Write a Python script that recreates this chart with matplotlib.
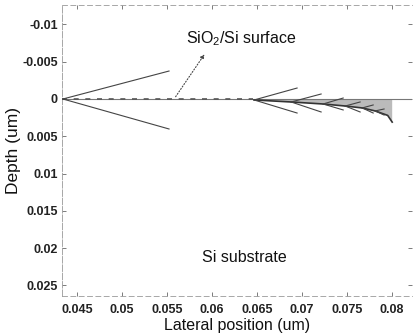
import matplotlib
matplotlib.use("Agg")
import matplotlib.pyplot as plt

plt.rcParams['font.family'] = ['Liberation Sans', 'DejaVu Sans']

# branching stages: origin (x, y), end x, upper end y, lower end y
stage_x0 = [0.04344, 0.06467, 0.06878, 0.07233, 0.07478, 0.07667, 0.07811]
stage_y0 = [0.0, 0.00013, 0.0004, 0.00067, 0.00094, 0.0012, 0.0016]
stage_x1 = [0.05522, 0.06944, 0.07211, 0.07456, 0.07644, 0.07789, 0.0791]
stage_up = [-0.00375, -0.00147, -0.00067, -0.00013, 0.0004, 0.0008, 0.00134]
stage_dn = [0.00402, 0.00188, 0.00174, 0.00147, 0.00174, 0.00188, 0.00215]

# lower edge of the shaded front
front_x = [0.06467, 0.06878, 0.07233, 0.07478, 0.07667, 0.07811, 0.0795, 0.0800, 0.0800]
front_y = [0.00013, 0.0004, 0.00067, 0.00094, 0.0012, 0.0016, 0.0022, 0.0031, 0.0]

xticks = [0.045, 0.05, 0.055, 0.06, 0.065, 0.07, 0.075, 0.08]
xtick_labels = ['0.045', '0.05', '0.055', '0.06', '0.065', '0.07', '0.075', '0.08']
yticks = [-0.01, -0.005, 0, 0.005, 0.01, 0.015, 0.02, 0.025]
ytick_labels = ['-0.01', '-0.005', '0', '0.005', '0.01', '0.015', '0.02', '0.025']

fig = plt.figure(figsize=(4.13, 3.34), dpi=100)
ax = fig.add_axes([0.150, 0.114, 0.848, 0.871])

# surface line
ax.plot([0.0433, 0.0823], [0, 0], color='#777777', lw=0.8, zorder=2)
ax.plot([0.0433, 0.0645], [0, 0], color='#555555', lw=1.2, ls=(0, (3, 4)), zorder=3)

# shaded front
ax.fill(front_x, front_y, color='#aaaaaa', alpha=0.8, lw=0, zorder=1)
ax.plot(front_x[:-1], front_y[:-1], color='#333333', lw=1.2, zorder=3)

for x0, y0, x1, yu, yd in zip(stage_x0, stage_y0, stage_x1, stage_up, stage_dn):
    ax.plot([x0, x1], [y0, yu], color='#444444', lw=0.8, zorder=3)
    ax.plot([x0, x1], [y0, yd], color='#444444', lw=0.8, zorder=3)

ax.annotate('', xy=(0.05933, -0.0063), xytext=(0.05578, 0),
            arrowprops=dict(arrowstyle='-|>', ls=':', color='#444444', lw=0.8,
                            mutation_scale=6))
ax.text(0.05711, -0.0075, 'SiO$_\\mathregular{2}$/Si surface', fontsize=11.5,
        va='baseline', color='#111111')
ax.text(0.05889, 0.02185, 'Si substrate', fontsize=11.5, va='baseline',
        color='#111111')

ax.set_xlim(0.04333, 0.08222)
ax.set_ylim(0.0264, -0.0126)
ax.set_xticks(xticks)
ax.set_xticklabels(xtick_labels, fontweight='bold')
ax.set_yticks(yticks)
ax.set_yticklabels(ytick_labels, fontweight='bold')
ax.tick_params(direction='in', length=3, width=0.6, labelsize=9, pad=3,
               top=True, right=True, color='#666666', labelcolor='#222222')
ax.tick_params(axis='x', pad=6)
for s in ax.spines.values():
    s.set_color('#999999')
    s.set_linewidth(0.6)
ax.spines['left'].set_linestyle((0, (8, 2)))
ax.spines['top'].set_linestyle((0, (6, 4)))
ax.spines['bottom'].set_linestyle((0, (6, 4)))
ax.spines['right'].set_visible(False)

ax.set_xlabel('Lateral position (um)', fontsize=11.5, labelpad=1, color='#111111')
ax.set_ylabel('Depth (um)', fontsize=12.5, labelpad=1, color='#111111')

fig.savefig('out.png', dpi=100)
